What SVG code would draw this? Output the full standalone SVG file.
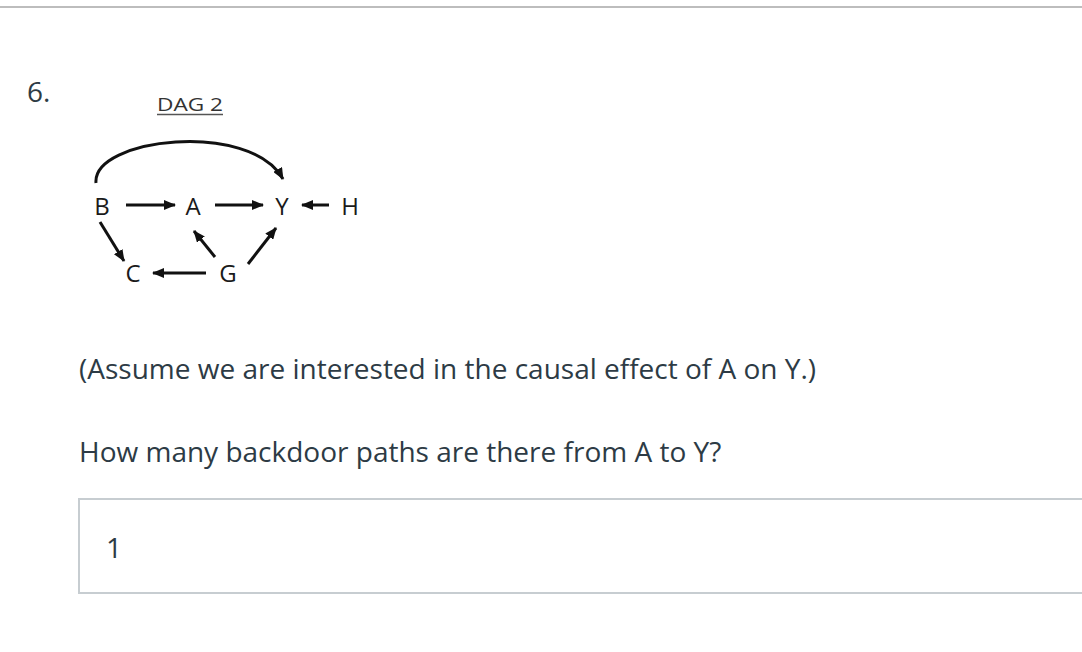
<svg xmlns="http://www.w3.org/2000/svg" width="1082" height="652" viewBox="0 0 1082 652">
  <style>
    .q { font-family: "Open Sans", "Liberation Sans", sans-serif; fill: #2d3b45; font-size: 28px; }
    .lbl { font-family: "Open Sans", "Liberation Sans", sans-serif; fill: #1a1a1a; font-size: 24px; text-anchor: middle; }
    .edge { stroke: #111; stroke-width: 3; fill: none; }
  </style>
  <defs>
    <marker id="ah" viewBox="0 0 12 10" refX="11" refY="5" markerWidth="12" markerHeight="10" markerUnits="userSpaceOnUse" orient="auto">
      <path d="M0,0 L12,5 L0,10 z" fill="#111"/>
    </marker>
  </defs>
  <rect x="0" y="0" width="1082" height="652" fill="#fff"/>
  <line x1="0" y1="7" x2="1082" y2="7" stroke="#bdbdbd" stroke-width="2"/>
  <text class="q" x="27" y="102" font-size="28">6.</text>

  <g id="title">
    <text x="157" y="111" font-family="Open Sans, Liberation Sans, sans-serif" font-size="19" fill="#333" textLength="66" lengthAdjust="spacingAndGlyphs">DAG 2</text>
    <line x1="157" y1="114.5" x2="223" y2="114.5" stroke="#555" stroke-width="1.5"/>
  </g>

  <g id="node-B"><text class="lbl" x="102" y="215">B</text></g>
  <g id="node-A"><text class="lbl" x="193" y="215">A</text></g>
  <g id="node-Y"><text class="lbl" x="282" y="215">Y</text></g>
  <g id="node-H"><text class="lbl" x="350" y="215">H</text></g>
  <g id="node-C"><text class="lbl" x="133" y="282">C</text></g>
  <g id="node-G"><text class="lbl" x="228" y="282">G</text></g>

  <g id="connectors">
    <path class="edge" d="M96,183 C92,138 250,120 283,179" marker-end="url(#ah)"/>
    <line class="edge" x1="126" y1="205" x2="175" y2="205" marker-end="url(#ah)"/>
    <line class="edge" x1="215" y1="205" x2="263" y2="205" marker-end="url(#ah)"/>
    <line class="edge" x1="329" y1="205" x2="302" y2="205" marker-end="url(#ah)"/>
    <line class="edge" x1="100" y1="222" x2="124" y2="261" marker-end="url(#ah)"/>
    <line class="edge" x1="215" y1="257" x2="194" y2="231" marker-end="url(#ah)"/>
    <line class="edge" x1="248" y1="264" x2="276" y2="228" marker-end="url(#ah)"/>
    <line class="edge" x1="206" y1="273" x2="153" y2="273" marker-end="url(#ah)"/>
  </g>

  <text class="q" x="79" y="379">(Assume we are interested in the causal effect of A on Y.)</text>
  <text class="q" x="79" y="462">How many backdoor paths are there from A to Y?</text>

  <g id="answer">
    <rect x="79" y="499" width="1010" height="94" fill="#fff" stroke="#c7cdd1" stroke-width="2"/>
    <text class="q" x="106" y="558">1</text>
  </g>
</svg>
